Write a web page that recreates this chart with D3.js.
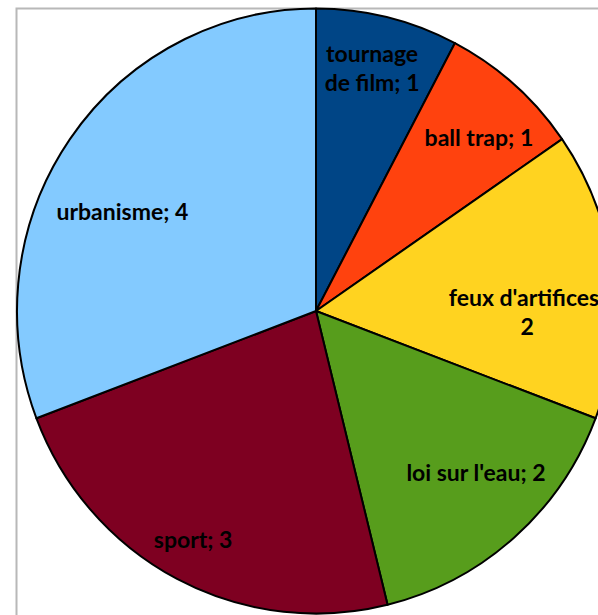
<!DOCTYPE html>
<html>
<head>
<meta charset="utf-8">
<script src="https://cdn.jsdelivr.net/npm/d3@7"></script>
<style>
  html, body { margin: 0; padding: 0; background: #fff; overflow: hidden; }
  svg { display: block; }
</style>
</head>
<body>
<svg id="chart" width="598" height="615"></svg>
<script>
// ── Data ──────────────────────────────────────────────────────────────────
const categories = ["tournage de film", "ball trap", "feux d'artifices", "loi sur l'eau", "sport", "urbanisme"];
const values     = [1, 1, 2, 2, 3, 4];
const colors     = ["#004586", "#ff420e", "#ffd320", "#579d1c", "#7e0021", "#83caff"];
const wrapAfter  = [1, 0, 2, 0, 0, 0];   // break label after n words (0 = single line)

// ── Layout ────────────────────────────────────────────────────────────────
const W = 598, H = 615;
const CX = 316, CY = 311;
const R  = 299;          // horizontal radius
const Y_STRETCH = 1.012; // the original is a touch taller than wide
const FONT_SIZE = 23;
const LINE_H    = 29;
// label placement per slice: [angle shift from slice middle (deg), radius factor]
const LABEL_PLACE = [[-0.8, 0.831], [1.8, 0.794], [7.5, 0.706], [-3.0, 0.763], [0.5, 0.870], [-7.7, 0.726]];

const svg = d3.select("#chart");

// frame of the chart area (runs off the right and bottom)
svg.append("rect")
  .attr("x", 16.5).attr("y", 8.5)
  .attr("width", W + 20).attr("height", H + 20)
  .attr("fill", "none")
  .attr("stroke", "#b8b8b8")
  .attr("stroke-width", 2);

const pie  = d3.pie().sort(null).value(d => d.value);
const data = categories.map((c, i) => ({ cat: c, value: values[i], color: colors[i], wrap: wrapAfter[i], place: LABEL_PLACE[i] }));
const arcs = pie(data);

const arc = d3.arc().innerRadius(0).outerRadius(R);

// ── Slices ────────────────────────────────────────────────────────────────
svg.append("g")
  .attr("transform", `translate(${CX},${CY}) scale(1,${Y_STRETCH})`)
  .selectAll("path.slice")
  .data(arcs)
  .join("path")
  .attr("class", "slice")
  .attr("d", arc)
  .attr("fill", d => d.data.color)
  .attr("stroke", "#000")
  .attr("stroke-width", 2)
  .attr("stroke-linejoin", "round");

// ── Labels ────────────────────────────────────────────────────────────────
const lg = svg.append("g").attr("transform", `translate(${CX},${CY})`);

lg.selectAll("text.lbl")
  .data(arcs)
  .join("text")
  .attr("class", "lbl")
  .attr("text-anchor", "middle")
  .attr("font-family", "Lato, 'Open Sans', sans-serif")
  .attr("font-weight", "bold")
  .attr("font-size", FONT_SIZE + "px")
  .attr("fill", "#000")
  .each(function (d) {
    const words = `${d.data.cat}; ${d.data.value}`.split(" ");
    const lines = d.data.wrap
      ? [words.slice(0, d.data.wrap).join(" "), words.slice(d.data.wrap).join(" ")]
      : [words.join(" ")];
    const [shift, rf] = d.data.place;
    const a = (d.startAngle + d.endAngle) / 2 + shift * Math.PI / 180;
    const x = Math.sin(a) * R * rf;
    const y = -Math.cos(a) * R * rf;
    const y0 = y - ((lines.length - 1) * LINE_H) / 2 + 7.7;
    d3.select(this).selectAll("tspan")
      .data(lines)
      .join("tspan")
      .attr("x", x)
      .attr("y", (l, i) => y0 + i * LINE_H)
      .text(l => l);
  });
</script>
</body>
</html>
